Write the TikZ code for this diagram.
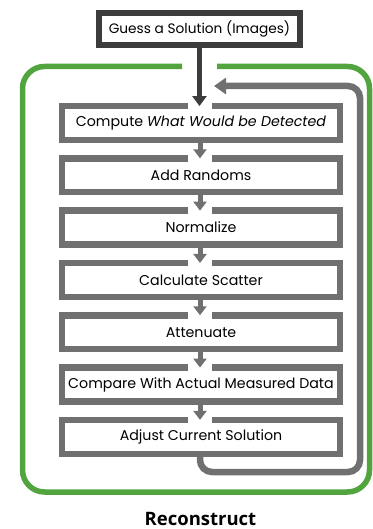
\documentclass[tikz,border=0pt]{standalone}
\usepackage{fontspec}
\setmainfont{Poppins}
\newfontfamily\titlefont{Open Sans}
\usetikzlibrary{arrows.meta}

\definecolor{framegreen}{RGB}{82,164,62}
\definecolor{stepgray}{RGB}{112,112,112}
\definecolor{guessdark}{RGB}{60,60,60}

\begin{document}
\begin{tikzpicture}[x=1pt,y=-1pt,
  stepbox/.style={draw=none, minimum width=277.5pt, minimum height=33.5pt,
    inner sep=0pt, font=\fontsize{14.2}{16}\selectfont},
  stepline/.style={draw=stepgray, line width=6.5pt, line join=miter},
  guessbox/.style={draw=guessdark, line width=6pt, fill=white,
    minimum width=201pt, minimum height=32pt, inner sep=0pt,
    font=\fontsize{13.7}{16}\selectfont},
  steparrow/.style={draw=stepgray, line width=5pt,
    -{Triangle[width=13pt,length=9pt]}},
  guessarrow/.style={draw=guessdark, line width=5.5pt,
    -{Triangle[width=14pt,length=10pt]}},
  looparrow/.style={draw=stepgray, line width=6.5pt, rounded corners=12pt,
    -{Triangle[width=16pt,length=12pt]}},
  frameline/.style={draw=framegreen, line width=5.5pt, rounded corners=22pt},
  titlelabel/.style={font=\titlefont\bfseries\fontsize{18.5}{22}\selectfont,
    inner sep=0pt}
]
\useasboundingbox (0,0) rectangle (372,529);

% green frame around the iterative loop, open at the top for the entry arrow
\draw[frameline] (217,66.5) -- (369.5,66.5) -- (369.5,492) -- (22.5,492)
  -- (22.5,66.5) -- (182,66.5);

% initial guess
\node[guessbox] (guess) at (199.5,29) {Guess a Solution (Images)};

% processing steps
\foreach \i/\t in {1/{Compute \textit{What Would be Detected}},
                   2/{Add Randoms},
                   3/{Normalize},
                   4/{Calculate Scatter},
                   5/{Attenuate},
                   6/{Compare With Actual Measured Data},
                   7/{Adjust Current Solution}} {
  \node[stepbox] (s\i) at (201,{123+(\i-1)*52.3}) {\t};
  \draw[stepline] ([xshift=11pt]s\i.north) -- (s\i.north east)
    -- (s\i.south east) -- (s\i.south west) -- (s\i.north west)
    -- ([xshift=-13.5pt]s\i.north);
}

% arrows between steps
\foreach \i [evaluate=\i as \j using int(\i+1)] in {1,...,6}
  \draw[steparrow] ([xshift=-1pt]s\i.south) -- ([xshift=-1pt]s\j.north);

% entry arrow
\draw[guessarrow] (guess.south) -- ([xshift=-1.5pt]s1.north);

% feedback loop back to the first step
\coordinate (loopin) at (214,86);
\draw[looparrow] ([xshift=-1pt]s7.south) |- (360,472) |- (loopin);

% caption
\node[titlelabel] (title) at (200.5,518.5) {Reconstruct};
\end{tikzpicture}
\end{document}
